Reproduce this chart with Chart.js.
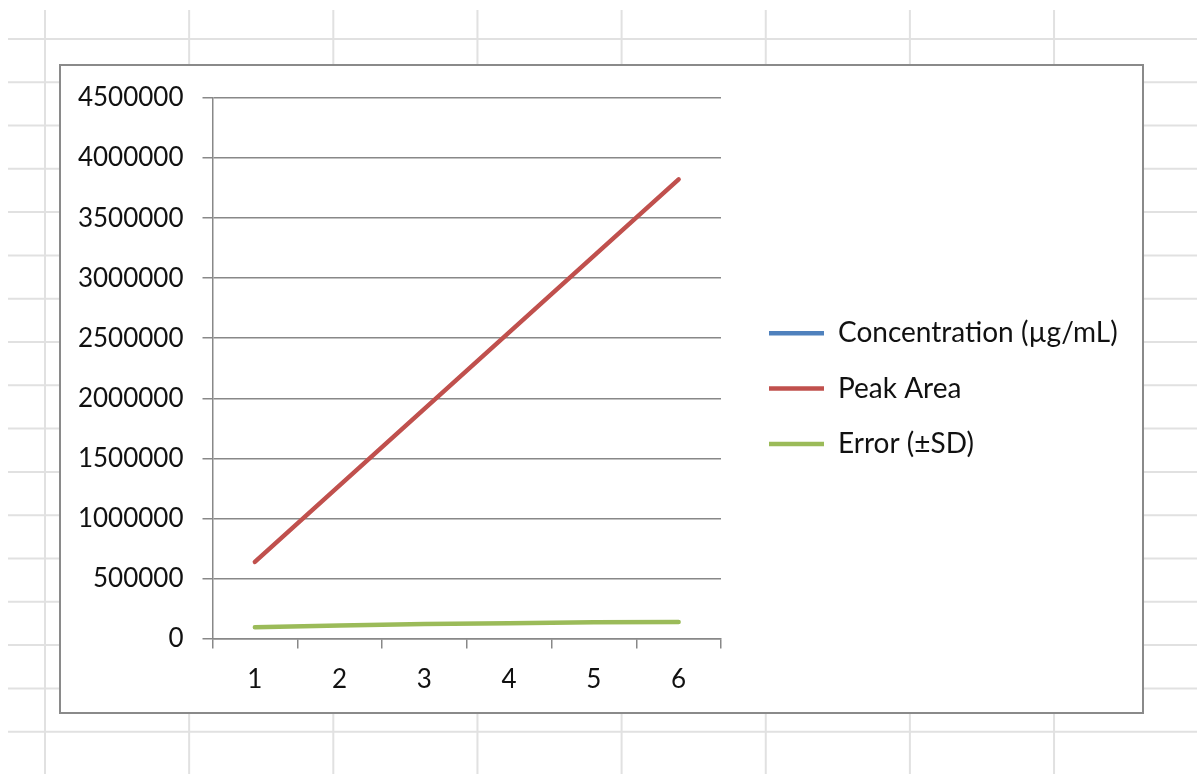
<!DOCTYPE html>
<html>
<head>
<meta charset="utf-8">
<script src="https://cdn.jsdelivr.net/npm/chart.js@4"></script>
<style>
  html, body { margin: 0; padding: 0; background: #fff; overflow: hidden; }
  canvas { display: block; }
</style>
</head>
<body>
<canvas id="c" width="1197" height="774"></canvas>
<script>
// Calibration run: six standards
const categories = ['1', '2', '3', '4', '5', '6'];
const concentration = [null, null, null, null, null, null];
const peakArea = [638000, 1275000, 1912000, 2549000, 3186000, 3823000];
const errorSD = [94000, 108000, 121000, 126000, 135000, 138000];
const yTicks = [0, 500000, 1000000, 1500000, 2000000, 2500000, 3000000, 3500000, 4000000, 4500000];
const seriesNames = ['Concentration (µg/mL)', 'Peak Area', 'Error (±SD)'];
const seriesColors = ['#4F81BD', '#C0504D', '#9BBB59'];

const FONT = 'Lato, "Noto Sans", sans-serif';
const TICK_SIZE = 26;
const LEGEND_SIZE = 28;
const AXIS_GREY = '#888888';
const SHEET_GREY = '#e1e1e1';

const W = 1197, H = 774;
const frame = { left: 60, top: 65, right: 1143, bottom: 713 };
const plot = { left: 212.5, top: 98, right: 721, bottom: 638.5 };
const legendRowStep = 55.3;
const legendPad = legendRowStep - LEGEND_SIZE;
const legendLine = 55;
const legendStartX = 769;
const legendFirstRowMid = 333.3;

// worksheet cells behind the chart object
const sheetBackdrop = {
  id: 'sheetBackdrop',
  beforeDraw(chart) {
    const ctx = chart.ctx;
    ctx.save();
    ctx.fillStyle = '#ffffff';
    ctx.fillRect(0, 0, W, H);
    ctx.strokeStyle = SHEET_GREY;
    ctx.lineWidth = 2;
    ctx.beginPath();
    for (let y = 38.9; y < H; y += 43.3) { ctx.moveTo(8, y); ctx.lineTo(W, y); }
    for (let x = 45; x < W; x += 144.15) { ctx.moveTo(x, 10); ctx.lineTo(x, H); }
    ctx.stroke();
    ctx.fillStyle = '#ffffff';
    ctx.fillRect(frame.left, frame.top, frame.right - frame.left, frame.bottom - frame.top);
    ctx.strokeStyle = '#8a8a8a';
    ctx.lineWidth = 2;
    ctx.strokeRect(frame.left, frame.top, frame.right - frame.left, frame.bottom - frame.top);
    ctx.restore();
  }
};

// places the legend block beside the plot
const legendPlacement = {
  id: 'legendPlacement',
  afterLayout(chart) {
    const L = chart.legend;
    if (!L || !L.columnSizes || !L.columnSizes.length) return;
    const w = L.right - L.left;
    L.left = legendStartX - legendPad;
    L.right = L.left + w + 40;
    const colH = L.columnSizes[0].height;
    const startY = (L.top + legendPad + L.bottom - colH) / 2;
    const dy = (legendFirstRowMid - LEGEND_SIZE / 2) - startY;
    L.top += dy;
    L.bottom += dy;
  }
};

// reserve room on the right for the legend so the plot ends where it should
const mctx = document.createElement('canvas').getContext('2d');
mctx.font = LEGEND_SIZE + 'px ' + FONT;
const maxText = Math.max(...seriesNames.map(s => mctx.measureText(s).width));
const legendWidth = legendPad + legendLine + LEGEND_SIZE / 2 + maxText + 10;
const padRight = W - plot.right - legendWidth;

const datasets = [concentration, peakArea, errorSD].map((vals, i) => ({
  label: seriesNames[i],
  data: vals,
  borderColor: seriesColors[i],
  backgroundColor: seriesColors[i],
  borderWidth: 4.5,
  borderCapStyle: 'round',
  borderJoinStyle: 'round',
  pointRadius: 0,
  pointHoverRadius: 0,
  tension: 0,
  fill: false,
  spanGaps: false
}));

new Chart(document.getElementById('c'), {
  type: 'line',
  data: { labels: categories, datasets },
  plugins: [sheetBackdrop, legendPlacement],
  options: {
    responsive: false,
    animation: false,
    devicePixelRatio: 1,
    layout: {
      padding: { left: frame.left, top: plot.top, right: padRight, bottom: H - frame.bottom }
    },
    plugins: {
      title: { display: false },
      tooltip: { enabled: false },
      legend: {
        display: true,
        position: 'right',
        align: 'center',
        maxWidth: 800,
        labels: {
          usePointStyle: true,
          pointStyle: 'line',
          pointStyleWidth: legendLine,
          boxHeight: LEGEND_SIZE,
          padding: legendPad,
          color: '#111111',
          font: { family: FONT, size: LEGEND_SIZE }
        }
      }
    },
    scales: {
      x: {
        type: 'category',
        offset: true,
        afterFit(scale) { scale.height = frame.bottom - plot.bottom; },
        grid: {
          display: true,
          offset: true,
          drawOnChartArea: false,
          drawTicks: true,
          tickLength: 10,
          color: AXIS_GREY,
          lineWidth: 1.5
        },
        border: { display: true, color: AXIS_GREY, width: 1.5 },
        ticks: {
          padding: 16,
          color: '#111111',
          maxRotation: 0,
          autoSkip: false,
          font: { family: FONT, size: TICK_SIZE }
        }
      },
      y: {
        min: yTicks[0],
        max: yTicks[yTicks.length - 1],
        afterFit(scale) { scale.width = plot.left - frame.left; },
        afterBuildTicks(scale) { scale.ticks = yTicks.map(v => ({ value: v })); },
        grid: {
          color: AXIS_GREY,
          lineWidth: 1.5,
          drawTicks: true,
          tickLength: 10
        },
        border: { display: true, color: AXIS_GREY, width: 1.5 },
        ticks: {
          padding: 19,
          color: '#111111',
          font: { family: FONT, size: TICK_SIZE },
          callback: v => String(v)
        }
      }
    }
  }
});
</script>
</body>
</html>
